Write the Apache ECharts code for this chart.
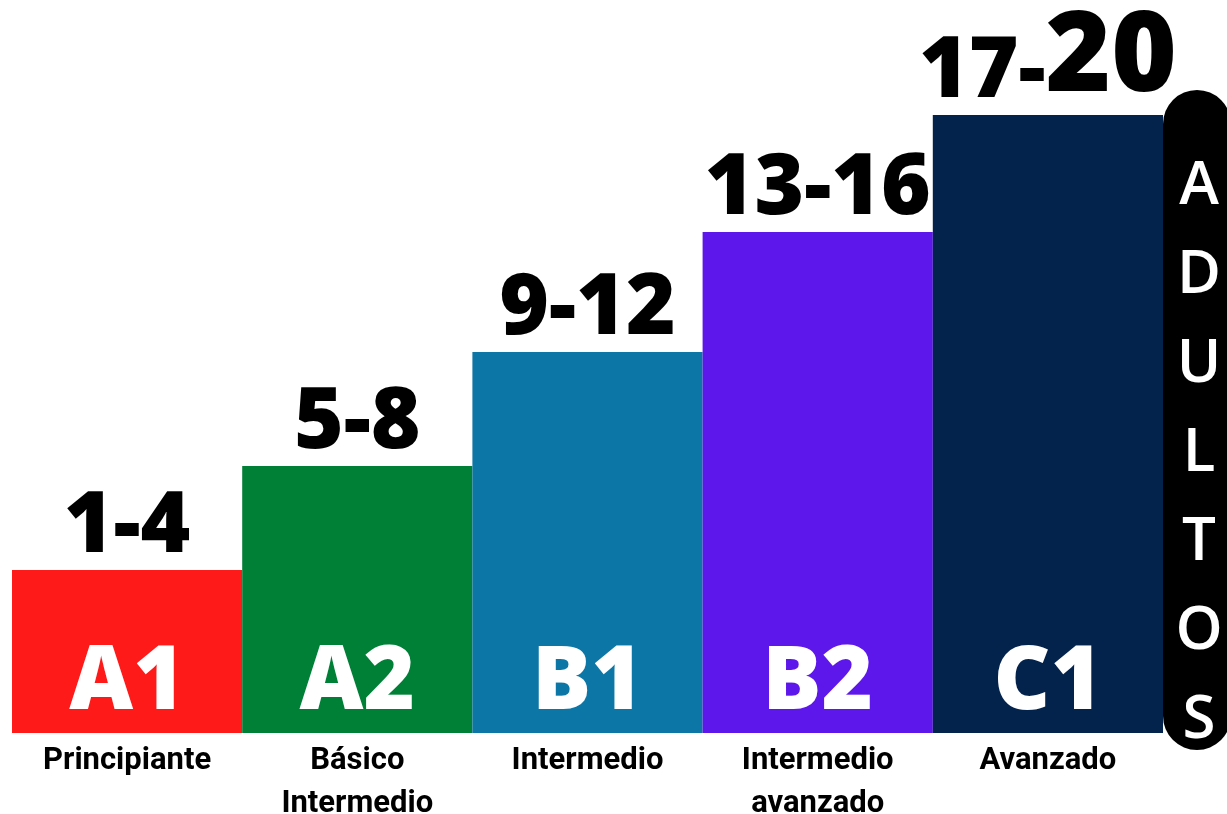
<!DOCTYPE html>
<html>
<head>
<meta charset="utf-8">
<script src="https://cdn.jsdelivr.net/npm/echarts@6/dist/echarts.min.js"></script>
<style>html,body{margin:0;padding:0;background:#fff;}#c{width:1227px;height:814px;}</style>
</head>
<body>
<div id="c"></div>
<script>
var categories = ['Principiante', 'Básico\nIntermedio', 'Intermedio', 'Intermedio\navanzado', 'Avanzado'];
var codes = ['A1', 'A2', 'B1', 'B2', 'C1'];
var ranges = ['1-4', '5-8', '9-12', '13-16', '17-20'];
var values = [163, 267, 381, 501, 618];
var colors = ['#FF1A1A', '#008037', '#0C76A6', '#5E17EB', '#03224C'];
var sideLabel = 'ADULTOS';

var chart = echarts.init(document.getElementById('c'));
chart.setOption({
  animation: false,
  grid: { left: 12, right: 64, top: 0, bottom: 81, containLabel: false, outerBoundsMode: 'none' },
  xAxis: {
    type: 'category',
    data: categories,
    axisLine: { show: false },
    axisTick: { show: false },
    axisLabel: {
      margin: 7,
      fontFamily: 'Roboto',
      fontWeight: 'bold',
      fontSize: 31,
      lineHeight: 43,
      color: '#000'
    }
  },
  yAxis: { type: 'value', min: 0, max: 733, show: false, splitLine: { show: false } },
  series: [
    {
      type: 'bar',
      barCategoryGap: 0,
      data: values.map(function (v, i) { return { value: v, itemStyle: { color: colors[i] } }; }),
      label: {
        show: true,
        position: 'top',
        distance: 0,
        formatter: function (p) {
          var r = ranges[p.dataIndex];
          if (p.dataIndex === ranges.length - 1) {
            var k = r.lastIndexOf('-');
            return '{n|' + r.slice(0, k + 1) + '}{b|' + r.slice(k + 1) + '}';
          }
          return '{n|' + r + '}';
        },
        rich: {
          n: { fontFamily: 'Open Sans', fontWeight: 800, fontSize: 85, lineHeight: 86, color: '#000', verticalAlign: 'bottom' },
          b: { fontFamily: 'Open Sans', fontWeight: 800, fontSize: 112, lineHeight: 106, color: '#000', verticalAlign: 'bottom' }
        }
      }
    },
    {
      type: 'bar',
      barGap: '-100%',
      barCategoryGap: 0,
      data: values,
      itemStyle: { color: 'rgba(0,0,0,0)' },
      silent: true,
      label: {
        show: true,
        position: 'insideBottom',
        distance: 5,
        formatter: function (p) { return codes[p.dataIndex]; },
        fontFamily: 'Open Sans',
        fontWeight: 800,
        fontSize: 88,
        lineHeight: 88,
        color: '#fff'
      }
    }
  ],
  graphic: [
    {
      type: 'rect',
      shape: { x: 1163, y: 90, width: 68, height: 660, r: 34 },
      style: { fill: '#000' }
    },
    {
      type: 'text',
      x: 1199,
      y: 454,
      style: {
        text: sideLabel.split('').join('\n'),
        fill: '#fff',
        fontFamily: 'Open Sans',
        fontWeight: 600,
        fontSize: 60,
        lineHeight: 89,
        align: 'center',
        verticalAlign: 'middle'
      }
    }
  ]
});
</script>
</body>
</html>
